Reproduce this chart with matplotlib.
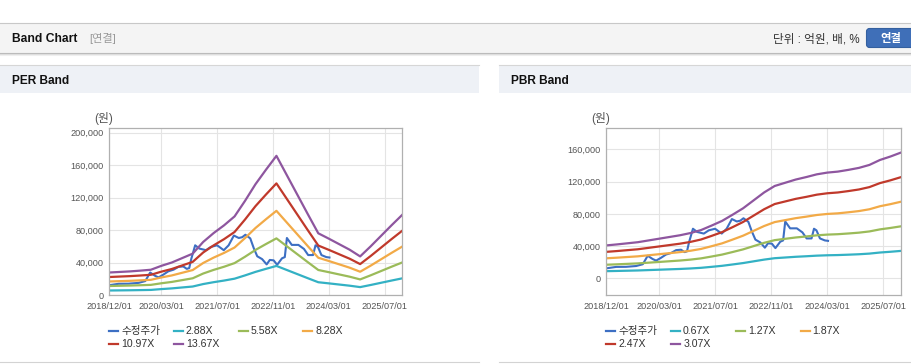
import numpy as np
import matplotlib
matplotlib.use('Agg')
import matplotlib.pyplot as plt
from matplotlib.patches import Rectangle, FancyBboxPatch

plt.rcParams['font.family'] = ['Liberation Sans', 'Noto Sans CJK KR', 'DejaVu Sans']

# months counted from 2018/12/01
tick_months = [0, 15, 31, 47, 63, 79]
tick_labels = ['2018/12/01', '2020/03/01', '2021/07/01', '2022/11/01', '2024/03/01', '2025/07/01']

# quarterly band base (EPS / BPS)
band_months = [0, 3, 6, 9, 12, 15, 18, 21, 24, 27, 30, 33, 36, 39, 42,
               45, 48, 51, 54, 57, 60, 63, 66, 69, 72, 75, 78, 81, 84]
eps = [2050, 2100, 2150, 2220, 2300, 2650, 2950, 3350, 3750, 4800, 5600, 6300, 7100, 8500, 10000,
       11300, 12550, 10800, 9050, 7300, 5580, 5100, 4600, 4100, 3500, 4400, 5350, 6300, 7220]
bps = [13300, 13700, 14150, 14600, 15300, 16000, 16700, 17400, 18300, 19500, 21300, 23200, 25700, 28300, 31500,
       34700, 37300, 38600, 39900, 40900, 42000, 42700, 43100, 43800, 44600, 45800, 47800, 49200, 50800]

per_mults = [2.88, 5.58, 8.28, 10.97, 13.67]
pbr_mults = [0.67, 1.27, 1.87, 2.47, 3.07]

# adjusted price (수정주가)
price_months = [0, 2.8, 5.6, 8.5, 10.4, 11.8, 13.2, 14.2, 15.6, 17, 18.5, 19.9, 21.3, 22.3, 23,
                23.6, 24.7, 25.9, 27.8, 29.2, 31, 32.9, 34.3, 35.8, 37.2, 38.2, 39.1, 40.5, 41.5,
                42.5, 43.9, 45.2, 46.1, 47.2, 48.2, 49.6, 50.4, 51, 52.4, 54.3, 55.9, 57.1, 58.5,
                59.2, 59.9, 60.9, 62.3, 63.2]
price = [12400, 14200, 14300, 15300, 17500, 28000, 24000, 22000, 25500, 29500, 31500, 35000, 35500, 32500, 33500,
         45000, 61500, 57500, 55500, 59500, 61500, 55500, 61500, 73500, 70500, 71500, 74500, 70000, 58000,
         48000, 44500, 38000, 43500, 43000, 37500, 45500, 47000, 70500, 62000, 62000, 57000, 49500, 49500,
         61500, 59500, 49500, 47000, 46500]

price_color = '#3d6fc3'
band_colors = ['#33b1c4', '#9bbb59', '#f2aa47', '#c0392b', '#8e569f']

W, H = 912, 364
fig = plt.figure(figsize=(W / 100, H / 100), dpi=100)

bg = fig.add_axes([0, 0, 1, 1])
bg.set_xlim(0, W)
bg.set_ylim(H, 0)
bg.axis('off')

# top header
bg.plot([0, W], [22.5, 22.5], color='#c8c8c8', lw=0.8)
bg.add_patch(Rectangle((0, 23), W, 29.5, color='#f4f4f4', lw=0))
bg.plot([0, W], [53, 53], color='#b9b9b9', lw=0.8)
bg.plot([0, W], [54, 54], color='#dedede', lw=0.8)
bg.plot([0, W], [55, 55], color='#efefef', lw=0.8)
bg.text(12, 38.5, 'Band Chart', fontsize=8.7, fontweight='bold', color='#111111', va='center')
bg.text(89, 38.5, '[연결]', fontsize=8, color='#999999', va='center')
bg.text(860, 39, '단위 : 억원, 배, %', fontsize=8.4, color='#333333', va='center', ha='right')
bg.add_patch(FancyBboxPatch((866.5, 28.5), 50, 19, boxstyle='round,pad=0,rounding_size=3',
                            fc='#3f6fb8', ec='#34609f', lw=0.8))
bg.text(891, 38.5, '연결', fontsize=8.2, fontweight='bold', color='white', va='center', ha='center')

# panel headers
for x0, x1, title in [(0, 479, 'PER Band'), (499, W, 'PBR Band')]:
    bg.add_patch(Rectangle((x0, 65), x1 - x0, 28, color='#eef1f6', lw=0))
    bg.plot([x0, x1], [64.5, 64.5], color='#d6d6d6', lw=0.8)
    bg.plot([x0, x1], [362, 362], color='#d3d3d3', lw=0.8)
    bg.text(x0 + 12, 80.5, title, fontsize=8.6, fontweight='bold', color='#111111', va='center')


def ax_at(x0, y0, x1, y1):
    return fig.add_axes([x0 / W, 1 - y1 / H, (x1 - x0) / W, (y1 - y0) / H])


def draw_band(box, base, mults, ylim, yticks, unit_x):
    ax = ax_at(*box)
    ax.plot(price_months, price, color=price_color, lw=1.5)
    for m, c in zip(mults, band_colors):
        ax.plot(band_months, np.array(base) * m, color=c, lw=1.6)
    ax.set_xlim(0, 84)
    ax.set_ylim(*ylim)
    ax.set_xticks(tick_months, tick_labels)
    ax.set_yticks(yticks, [f'{v:,}' for v in yticks])
    ax.grid(color='#e4e4e4', lw=0.8)
    ax.set_axisbelow(True)
    for s in ax.spines.values():
        s.set_color('#b0b0b0')
        s.set_linewidth(0.9)
    ax.tick_params(length=0, labelsize=6.6, colors='#555555')
    ax.tick_params(axis='y', pad=4)
    ax.tick_params(axis='x', pad=5)
    bg.text(unit_x, 118.3, '(원)', fontsize=8.5, color='#555555', va='center', ha='center')

    # legend
    names = ['수정주가'] + [f'{m:.2f}X' for m in mults]
    colors = [price_color] + band_colors
    for i, (name, c) in enumerate(zip(names, colors)):
        col, row = i % 4, i // 4
        lx = box[0] + col * 64.8
        ly = 331 + row * 12.7
        bg.plot([lx, lx + 9], [ly, ly], color=c, lw=1.6)
        bg.text(lx + 12, ly, name, fontsize=7.6, color='#333333', va='center')
    return ax


draw_band((109, 128, 402, 295.3), eps, per_mults, (0, 205800),
          [0, 40000, 80000, 120000, 160000, 200000], 104)
draw_band((606.3, 128.3, 901, 295.3), bps, pbr_mults, (-21000, 186000),
          [0, 40000, 80000, 120000, 160000], 601)

fig.savefig('out.png', dpi=100)
